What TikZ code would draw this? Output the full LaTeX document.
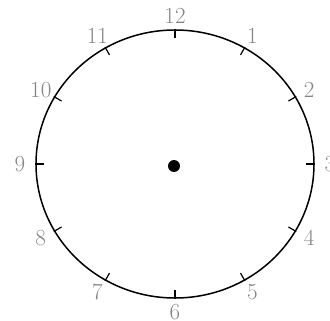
\documentclass[tikz,border=0pt]{standalone}
\usetikzlibrary{calc}
\definecolor{dialgray}{HTML}{858585}
\tikzset{
  rim/.style={draw=black, line width=1.5pt},
  hourtick/.style={draw=black, line width=1.2pt},
  numeral/.style={text=dialgray, font=\fontsize{23}{26}\selectfont, inner sep=0pt},
  hub/.style={circle, fill=black, minimum size=12pt, inner sep=0pt},
}
\begin{document}
\begin{tikzpicture}[x=1pt,y=-1pt]
  \useasboundingbox (0,0) rectangle (330,321);
  \coordinate (c) at (175,164);
  \draw[rim] (c) ellipse [x radius=139pt, y radius=134pt];
  \foreach \h in {1,...,12}{
    \pgfmathsetmacro{\a}{90-30*\h}
    \draw[hourtick] ($(c)+(\a:131pt and 126pt)$) -- ($(c)+(\a:140pt and 135pt)$);
    \node[numeral] (h\h) at ($(c)+(\a:155pt and 148pt)$) {\h};
  }
  \node[hub] (hub) at (174,166) {};
\end{tikzpicture}
\end{document}
